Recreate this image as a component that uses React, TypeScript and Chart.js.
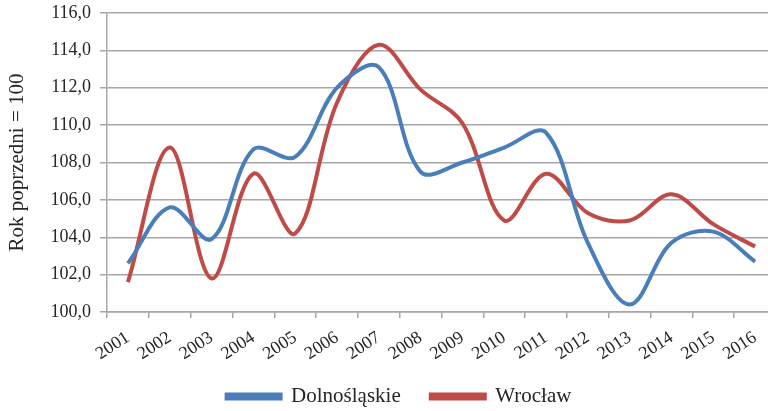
import React, { useEffect, useRef } from "react";
import { Chart, registerables } from "chart.js";

Chart.register(...registerables);

const years = ["2001", "2002", "2003", "2004", "2005", "2006", "2007", "2008", "2009", "2010", "2011", "2012", "2013", "2014", "2015", "2016"];
const dolnoslaskie = [102.6, 105.6, 103.9, 108.7, 108.3, 112.0, 113.1, 107.5, 108.0, 108.8, 109.6, 103.7, 100.4, 103.7, 104.3, 102.7];
const wroclaw = [101.6, 108.8, 101.8, 107.4, 104.2, 111.2, 114.3, 111.9, 110.1, 104.9, 107.4, 105.3, 104.9, 106.3, 104.7, 103.5];
const yMin = 100;
const yMax = 116;
const yStep = 2;
const seriesNames = ["Dolnośląskie", "Wrocław"];
const yTitle = "Rok poprzedni = 100";

const BLUE = "#4A7EBB";
const RED = "#BE4B48";
const GRID = "#A6A6A6";
const TEXT = "#262626";
const FONT = "Liberation Serif, Times New Roman, serif";

const layoutTweak = {
  id: "layoutTweak",
  afterLayout(chart: any) {
    if (chart.legend) {
      chart.legend.left += 11;
      chart.legend.right += 11;
    }
    if (chart.scales && chart.scales.x) {
      chart.scales.x.bottom += 20;
    }
  },
};

export default function App() {
  const ref = useRef<HTMLCanvasElement | null>(null);

  useEffect(() => {
    if (!ref.current) return;
    const chart = new Chart(ref.current, {
      type: "line",
      data: {
        labels: years,
        datasets: [
          {
            label: seriesNames[0],
            data: dolnoslaskie,
            borderColor: BLUE,
            backgroundColor: BLUE,
            borderWidth: 4,
            pointRadius: 0,
            tension: 0.35,
            fill: false,
          },
          {
            label: seriesNames[1],
            data: wroclaw,
            borderColor: RED,
            backgroundColor: RED,
            borderWidth: 4,
            pointRadius: 0,
            tension: 0.35,
            fill: false,
          },
        ],
      },
      plugins: [layoutTweak],
      options: {
        animation: false,
        responsive: false,
        maintainAspectRatio: false,
        layout: { padding: { top: 13, right: 24, left: 0, bottom: -6 } },
        plugins: {
          tooltip: { enabled: false },
          legend: {
            position: "bottom",
            labels: {
              boxWidth: 54,
              boxHeight: 4,
              padding: 30,
              color: TEXT,
              font: { family: FONT, size: 21 },
            },
          },
        },
        scales: {
          x: {
            offset: true,
            grid: {
              offset: true,
              drawOnChartArea: false,
              drawTicks: true,
              tickLength: 6,
              color: GRID,
              lineWidth: 1.5,
            },
            border: { display: true, color: GRID, width: 1.5 },
            ticks: {
              autoSkip: false,
              minRotation: 33,
              maxRotation: 33,
              color: TEXT,
              padding: 9,
              font: { family: FONT, size: 18 },
            },
            afterFit: (scale: any) => {
              scale.height = 44;
            },
          },
          y: {
            min: yMin,
            max: yMax,
            grid: {
              color: GRID,
              lineWidth: 1.5,
              tickLength: 7,
              drawTicks: true,
            },
            border: { display: true, color: GRID, width: 1.5 },
            ticks: {
              stepSize: yStep,
              color: TEXT,
              padding: 9,
              font: { family: FONT, size: 18 },
              callback: (v: any) => Number(v).toFixed(1).replace(".", ","),
            },
            title: {
              display: true,
              text: yTitle,
              color: TEXT,
              padding: { top: 5, bottom: 0 },
              font: { family: FONT, size: 21 },
            },
            afterFit: (scale: any) => {
              scale.width = 107;
              scale.paddingTop = 0;
              scale.paddingBottom = 0;
            },
          },
        },
      },
    });
    return () => chart.destroy();
  }, []);

  return (
    <div style={{ position: "fixed", left: 0, top: 0, width: 768, height: 411, overflow: "hidden", background: "#fff" }}>
      <canvas ref={ref} width={800} height={411} style={{ display: "block", width: 800, height: 411 }} />
    </div>
  );
}
